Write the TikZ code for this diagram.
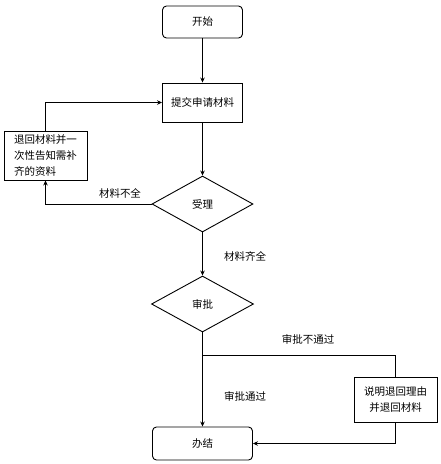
\documentclass[tikz,border=0pt]{standalone}
\usepackage{fontspec}
\setmainfont{Noto Sans CJK SC}
\usetikzlibrary{shapes.geometric,arrows.meta}
\begin{document}
\begin{tikzpicture}[x=1pt,y=-1pt,
  every node/.style={font=\fontsize{10.5}{16}\selectfont},
  base/.style={draw,line width=0.9pt,inner sep=0pt},
  rbox/.style={base,rounded corners=4pt},
  sbox/.style={base},
  dia/.style={base,diamond,aspect=1.8},
  line/.style={line width=0.9pt},
  conn/.style={line,-{Stealth[length=5pt,width=4.5pt]}},
  lbl/.style={inner sep=0pt}]
\useasboundingbox (0,0) rectangle (441,464);
\node[rbox,minimum width=80pt,minimum height=32pt] (start) at (202.5,22) {开始};
\node[sbox,minimum width=80pt,minimum height=39pt] (submit) at (202.5,102.5) {提交申请材料};
\node[sbox,minimum width=83pt,minimum height=49pt,align=left] (ret) at (45.5,155.5) {退回材料并一\\次性告知需补\\齐的资料};
\node[dia,minimum width=101pt,minimum height=56pt] (accept) at (202.5,204) {受理};
\node[dia,minimum width=102pt,minimum height=56pt] (approve) at (202.5,304) {审批};
\node[sbox,minimum width=83pt,minimum height=45pt,align=center] (explain) at (395.5,399.5) {说明退回理由\\并退回材料};
\node[rbox,minimum width=100pt,minimum height=33pt] (end) at (202.5,443.5) {办结};
\coordinate (br) at (202.5,355);
\draw[conn] (start) -- (submit);
\draw[conn] (submit) -- (accept);
\draw[conn] (accept.west) -| (ret.south);
\draw[conn] (ret.north) |- (submit.west);
\draw[conn] (accept) -- (approve);
\draw[conn] (approve) -- (end);
\draw[line] (br) -| (explain.north);
\draw[conn] (explain.south) |- (end.east);
\node[lbl] (l1) at (120,193) {材料不全};
\node[lbl] (l2) at (245,256) {材料齐全};
\node[lbl] (l3) at (308,339) {审批不通过};
\node[lbl] (l4) at (245,396) {审批通过};
\end{tikzpicture}
\end{document}
